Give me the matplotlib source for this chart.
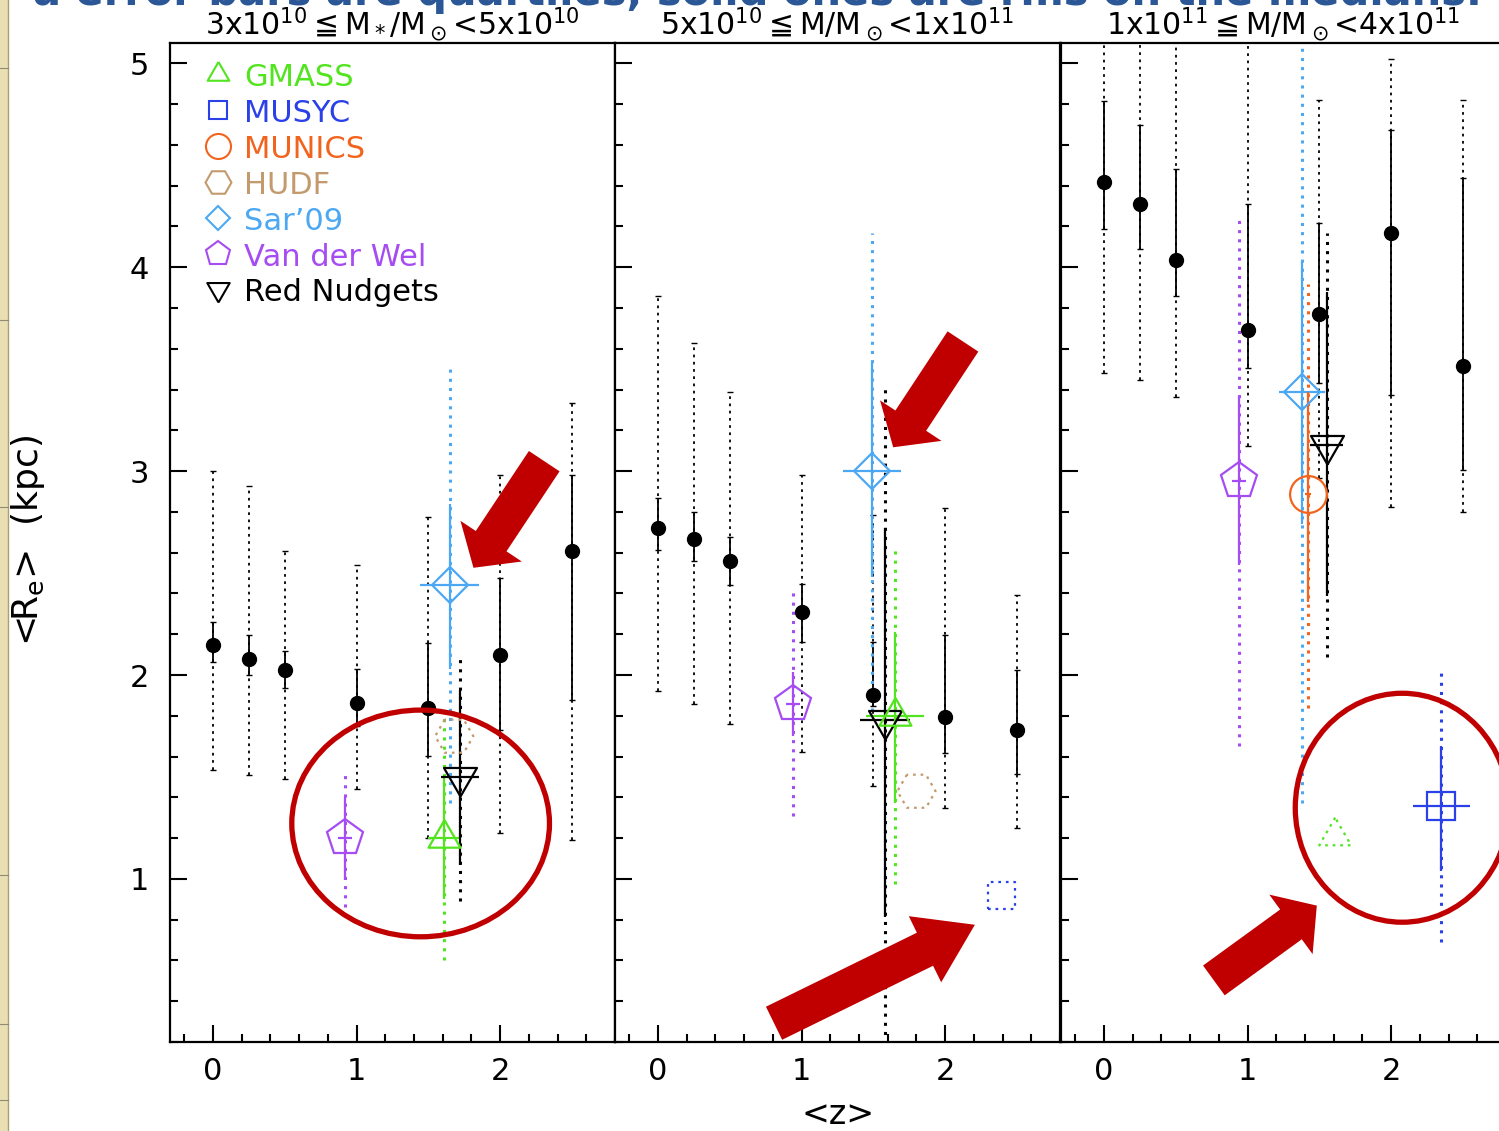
"""Effective radius vs redshift in three stellar-mass bins, with literature points."""
import matplotlib.pyplot as plt
import numpy as np
from matplotlib.patches import Ellipse, Rectangle
from matplotlib.lines import Line2D
from matplotlib.ticker import MultipleLocator

plt.rcParams["font.family"] = ["DejaVu Sans"]
plt.rcParams["mathtext.fontset"] = "dejavusans"

nan = np.nan

PANEL_TITLES = [
    r"3x10$^{10}$$\leqq$M$_*$/M$_\odot$<5x10$^{10}$",
    r"5x10$^{10}$$\leqq$M/M$_\odot$<1x10$^{11}$",
    r"1x10$^{11}$$\leqq$M/M$_\odot$<4x10$^{11}$",
]
HEADLINE = "a error bars are quartiles, solid ones are rms on the medians."

# median redshift of each bin
Z_MED = [0.0, 0.25, 0.5, 1.0, 1.5, 2.0, 2.5]

# medians, rms range (solid) and quartile range (dotted), per mass bin
RE_MED_LOW = [2.145, 2.08, 2.025, 1.865, 1.84, 2.10, 2.61]
RMS_LO_LOW = [2.064, 2.00, 1.938, 1.75, 1.604, 1.73, 1.878]
RMS_HI_LOW = [2.259, 2.195, 2.12, 2.03, 2.156, 2.475, 2.98]
Q_LO_LOW = [1.536, 1.51, 1.49, 1.44, 1.20, 1.226, 1.19]
Q_HI_LOW = [3.00, 2.928, 2.61, 2.539, 2.774, 2.98, 3.333]

RE_MED_MID = [2.719, 2.667, 2.558, 2.308, 1.904, 1.792, 1.73]
RMS_LO_MID = [2.615, 2.558, 2.443, 2.163, 1.85, 1.616, 1.516]
RMS_HI_MID = [2.867, 2.80, 2.679, 2.448, 2.16, 2.196, 2.027]
Q_LO_MID = [1.92, 1.858, 1.759, 1.62, 1.457, 1.35, 1.25]
Q_HI_MID = [3.858, 3.63, 3.39, 2.979, 2.784, 2.819, 2.391]

RE_MED_HIGH = [4.416, 4.312, 4.036, 3.694, 3.77, 4.17, 3.516]
RMS_LO_HIGH = [4.186, 4.092, 3.858, 3.506, 3.43, 3.372, 3.006]
RMS_HI_HIGH = [4.816, 4.696, 4.484, 4.31, 4.216, 4.672, 4.44]
Q_LO_HIGH = [3.482, 3.446, 3.362, 3.122, 2.966, 2.822, 2.80]
Q_HI_HIGH = [5.2, 5.2, 5.2, 5.2, 4.822, 5.02, 4.822]

# literature samples
SURVEYS = ["GMASS", "MUSYC", "MUNICS", "HUDF", "Sar\u201909", "Van der Wel", "Red Nudgets"]
SURVEY_COLORS = ["#52E41E", "#2A40E8", "#F2641E", "#C39A6E", "#4CA8F2", "#A54CF2", "black"]

# one entry per literature point
PT_SURVEY = ["Van der Wel", "GMASS", "Sar\u201909", "HUDF", "Red Nudgets",
             "Van der Wel", "Sar\u201909", "Red Nudgets", "GMASS", "HUDF", "MUSYC",
             "Van der Wel", "Sar\u201909", "MUNICS", "Red Nudgets", "GMASS", "MUSYC"]
PT_PANEL = [0, 0, 0, 0, 0, 1, 1, 1, 1, 1, 1, 2, 2, 2, 2, 2, 2]
PT_Z = [0.92, 1.61, 1.65, 1.68, 1.72, 0.94, 1.49, 1.58, 1.65, 1.80, 2.39,
        0.94, 1.38, 1.42, 1.55, 1.61, 2.35]
PT_RE = [1.20, 1.20, 2.44, 1.70, 1.50, 1.86, 3.00, 1.78, 1.80, 1.43, 0.92,
         2.95, 3.39, 2.89, 3.13, 1.21, 1.36]
PT_ZERR = [0.05, 0.115, 0.205, nan, 0.135, 0.05, 0.20, 0.175, 0.20, nan, nan,
           0.05, 0.16, 0.02, 0.115, nan, 0.20]
PT_RMS_LO = [0.995, 0.90, 2.03, nan, 1.07, 1.70, 2.48, 0.815, 1.37, nan, nan,
             2.54, 2.74, 2.36, 2.39, nan, 1.04]
PT_RMS_HI = [1.40, 1.50, 2.84, nan, 1.925, 2.015, 3.53, 2.72, 2.21, nan, nan,
             3.37, 4.03, 3.39, 3.88, nan, 1.65]
PT_Q_LO = [0.864, 0.60, 1.37, nan, 0.89, 1.31, 1.825, 0.10, 0.974, nan, nan,
           1.65, 1.37, 1.84, 2.09, nan, 0.69]
PT_Q_HI = [1.53, 1.80, 3.505, nan, 2.094, 2.42, 4.167, 3.414, 2.615, nan, nan,
           4.25, 5.20, 3.92, 4.17, nan, 2.02]
PT_DOTTED = [False, False, False, True, False, False, False, False, False, True, True,
             False, False, False, False, True, False]

# highlighted regions (data coords of each panel)
RING_PANEL = [0, 2]
RING_CENTER = [(1.446, 1.272), (2.077, 1.349)]
RING_SIZE = [(1.795, 1.112), (1.49, 1.123)]
ARROW_PANEL = [0, 1, 1, 2]
ARROW_TAIL = [(2.307, 3.049), (2.124, 3.636), (0.808, 0.292), (0.765, 0.502)]
ARROW_TIP = [(1.814, 2.526), (1.638, 3.117), (2.207, 0.775), (1.482, 0.869)]
ARROW_HEAD = [23, 23, 40, 23]

UP_TRI = [(0, 1.1547), (-1, -0.5774), (1, -0.5774), (0, 1.1547)]
DOWN_TRI = [(0, -1.1547), (-1, 0.5774), (1, 0.5774), (0, -1.1547)]
SURVEY_MARKERS = [UP_TRI, "s", "o", "H", "D", "p", DOWN_TRI]
SURVEY_MS = [26.5, 19.5, 26.5, 27.5, 18.6, 27.3, 27.4]
DARK_RED = "#C00000"

W, H = 1499, 1131


def px_box(x0, x1, y0, y1):
    return [x0 / W, 1 - y1 / H, (x1 - x0) / W, (y1 - y0) / H]


def style_axes(ax, first):
    ax.set_xlim(-0.3, 2.8)
    ax.set_ylim(0.2, 5.1)
    ax.xaxis.set_major_locator(MultipleLocator(1))
    ax.xaxis.set_minor_locator(MultipleLocator(0.2))
    ax.yaxis.set_major_locator(MultipleLocator(1))
    ax.yaxis.set_minor_locator(MultipleLocator(0.2))
    ax.tick_params(which="both", direction="in", top=False, right=False, width=1.5)
    ax.tick_params(which="major", length=12)
    ax.tick_params(which="minor", length=6)
    ax.tick_params(axis="x", labelsize=22, pad=11)
    ax.tick_params(axis="y", labelsize=22, pad=15, labelleft=first)
    for sp in ax.spines.values():
        sp.set_linewidth(1.6)


def draw_medians(ax, med, rlo, rhi, qlo, qhi):
    med = np.array(med)
    q = ax.errorbar(Z_MED, med, yerr=[med - np.array(qlo), np.array(qhi) - med],
                    fmt="none", ecolor="black", elinewidth=1.3, capsize=2.5, capthick=1)
    q[2][0].set_linestyle((0, (1.5, 2.5)))
    ax.errorbar(Z_MED, med, yerr=[med - np.array(rlo), np.array(rhi) - med],
                fmt="none", ecolor="black", elinewidth=1.3, capsize=2.5, capthick=1)
    ax.plot(Z_MED, med, "o", color="black", ms=10, zorder=5)


def draw_points(ax, panel):
    for i, p in enumerate(PT_PANEL):
        if p != panel:
            continue
        k = SURVEYS.index(PT_SURVEY[i])
        c = SURVEY_COLORS[k]
        z, r = PT_Z[i], PT_RE[i]
        if not np.isnan(PT_Q_LO[i]):
            ax.vlines(z, PT_Q_LO[i], PT_Q_HI[i], colors=c, lw=2.2,
                      linestyles=(0, (1, 2)), zorder=3)
        if not np.isnan(PT_RMS_LO[i]):
            ax.vlines(z, PT_RMS_LO[i], PT_RMS_HI[i], colors=c, lw=1.6, zorder=4)
        if not np.isnan(PT_ZERR[i]):
            ax.hlines(r, z - PT_ZERR[i], z + PT_ZERR[i], colors=c, lw=1.6, zorder=4)
        if PT_DOTTED[i]:
            ax.scatter([z], [r], marker=SURVEY_MARKERS[k], s=SURVEY_MS[k] ** 2,
                       facecolors="none", edgecolors=c, linewidths=1.6,
                       linestyles=(0, (1.2, 2.2)), zorder=6)
        else:
            ax.plot(z, r, marker=SURVEY_MARKERS[k], ms=SURVEY_MS[k], mfc="none",
                    mec=c, mew=1.6, ls="none", zorder=6)


def draw_key(ax):
    for i, (name, c, m, ms) in enumerate(zip(SURVEYS, SURVEY_COLORS, SURVEY_MARKERS, SURVEY_MS)):
        base = 86 + 35.9 * i
        y_txt = 1 - (base - 43) / 999
        y_mk = 1 - (base - 12 - 43) / 999
        ax.plot(0.108, y_mk, marker=m, ms=ms * 0.68, mfc="none", mec=c, mew=1.5,
                ls="none", transform=ax.transAxes, clip_on=False)
        ax.text(0.166, y_txt, name, color=c, fontsize=22, va="baseline", ha="left",
                transform=ax.transAxes)


fig = plt.figure(figsize=(W / 100, H / 100), dpi=100)

# slide margin on the left
fig.patches.append(Rectangle((0, 0), 7.5 / W, 1, transform=fig.transFigure,
                             facecolor="#E9DFB2", edgecolor="none"))
fig.add_artist(Line2D([7.5 / W, 7.5 / W], [0, 1], transform=fig.transFigure,
                      color="#A89F7E", lw=1))
for yy in [68, 320, 507, 875, 1024, 1100]:
    fig.add_artist(Line2D([0, 7.5 / W], [1 - yy / H, 1 - yy / H],
                          transform=fig.transFigure, color="#8F8A75", lw=0.8))

fig.text(1482 / W, 1 - 5 / H, HEADLINE, ha="right", va="baseline", fontsize=30,
         fontweight="bold", color="#2B5797")

edges = [170, 615, 1061]
medians = [
    (RE_MED_LOW, RMS_LO_LOW, RMS_HI_LOW, Q_LO_LOW, Q_HI_LOW),
    (RE_MED_MID, RMS_LO_MID, RMS_HI_MID, Q_LO_MID, Q_HI_MID),
    (RE_MED_HIGH, RMS_LO_HIGH, RMS_HI_HIGH, Q_LO_HIGH, Q_HI_HIGH),
]
axes = []
for j in range(3):
    ax = fig.add_axes(px_box(edges[j], edges[j] + 445, 43, 1042))
    style_axes(ax, j == 0)
    draw_medians(ax, *medians[j])
    draw_points(ax, j)
    ax.set_title(PANEL_TITLES[j], fontsize=21.5, pad=6)
    axes.append(ax)

draw_key(axes[0])

for p, c, s in zip(RING_PANEL, RING_CENTER, RING_SIZE):
    axes[p].add_patch(Ellipse(c, s[0], s[1], fill=False, ec=DARK_RED, lw=3.8,
                              clip_on=False, zorder=10))
for p, tail, tip, hl in zip(ARROW_PANEL, ARROW_TAIL, ARROW_TIP, ARROW_HEAD):
    axes[p].annotate("", xy=tip, xytext=tail, zorder=11,
                     arrowprops=dict(arrowstyle=f"simple,head_length={hl},head_width=53,tail_width=26.5",
                                     mutation_scale=1, color=DARK_RED, shrinkA=0, shrinkB=0,
                                     lw=0))

fig.text(28 / W, 1 - 540 / H, r"<R$_{\rm e}$>  (kpc)", rotation=90, ha="center",
         va="center", fontsize=26)
fig.text(838 / W, 1 - 1115 / H, "<z>", ha="center", va="center", fontsize=24)

fig.savefig("out.png", dpi=100)
